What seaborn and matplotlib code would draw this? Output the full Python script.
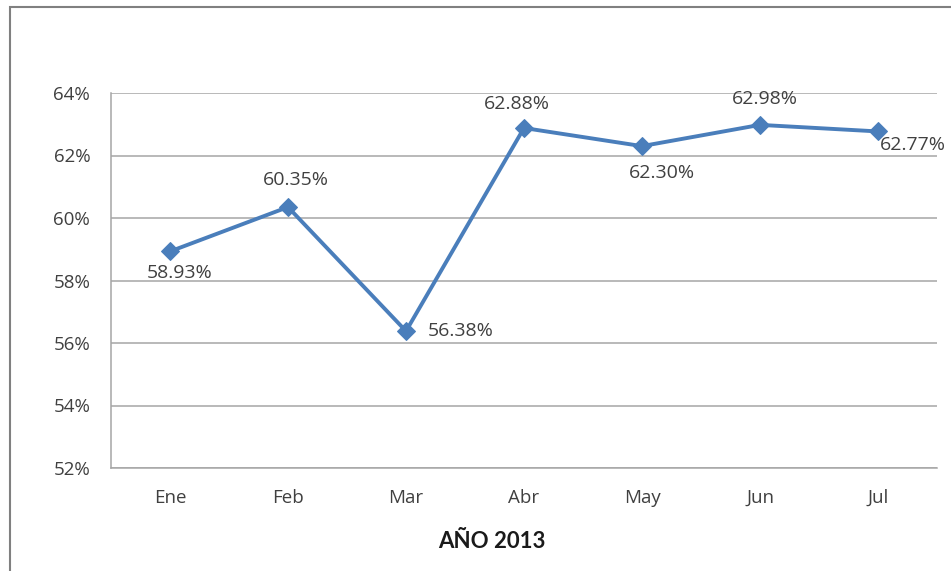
import matplotlib
matplotlib.use("Agg")
import matplotlib.pyplot as plt
import seaborn as sns
import pandas as pd
from matplotlib.patches import Rectangle
from matplotlib.ticker import FuncFormatter

months = ["Ene", "Feb", "Mar", "Abr", "May", "Jun", "Jul"]
values = [58.93, 60.35, 56.38, 62.88, 62.30, 62.98, 62.77]
yticks = [52, 54, 56, 58, 60, 62, 64]
title = "AÑO 2013"

sns.set_style("white")
plt.rcParams['font.family'] = ['Open Sans', 'DejaVu Sans']

W, H = 951, 571
AX_L, AX_R, AX_T, AX_B = 111, 937, 93, 468
fig = plt.figure(figsize=(W / 100, H / 100), dpi=100)
ax = fig.add_axes([AX_L / W, 1 - AX_B / H, (AX_R - AX_L) / W, (AX_B - AX_T) / H])

df = pd.DataFrame({"mes": months, "valor": values})
df["x"] = range(len(months))
color = "#4A7EBB"
sns.lineplot(data=df, x="x", y="valor", ax=ax, color=color, linewidth=2.8,
             marker="D", markersize=9, markeredgecolor=color, zorder=3)

ax.set_xlim(-0.5, len(months) - 0.5)
ax.set_ylim(52, 64)
ax.set_yticks(yticks)
ax.yaxis.set_major_formatter(FuncFormatter(lambda v, p: f"{v:.0f}%"))
ax.set_xticks(range(len(months)))
ax.set_xticklabels(months)
ax.grid(axis="y", color="#A6A6A6", linewidth=1.1)
ax.grid(axis="x", visible=False)
for s in ["top", "right"]:
    ax.spines[s].set_visible(False)
for s in ["left", "bottom"]:
    ax.spines[s].set_color("#A6A6A6")
    ax.spines[s].set_linewidth(1.1)
ax.tick_params(axis="both", length=0, labelsize=13.5, colors="#404040")
ax.tick_params(axis="y", pad=15)
ax.tick_params(axis="x", pad=15)
ax.set_xlabel(title, fontsize=16, fontweight="bold", color="#1A1A1A",
              family=["Lato", "DejaVu Sans"], va="center")
ax.xaxis.set_label_coords((492 - AX_L) / (AX_R - AX_L), -(542 - AX_B) / (AX_B - AX_T))
ax.set_ylabel("")

# label offsets in pixels (dx right, dy up) relative to marker
offsets = [(10, -22), (8, 27), (55, 0), (-7, 24), (20, -27), (5, 26), (35, -14)]
for i, (v, (dx, dy)) in enumerate(zip(values, offsets)):
    ax.annotate(f"{v:.2f}%", (i, v), xytext=(dx, dy), textcoords="offset pixels",
                ha="center", va="center", fontsize=14, color="#404040", zorder=4)

fig.patches.append(Rectangle((10 / W, -0.1), 1.2, 1 - 7 / H + 0.1,
                             transform=fig.transFigure, fill=False,
                             edgecolor="#808080", linewidth=1.5))

fig.savefig("out.png", dpi=100)
